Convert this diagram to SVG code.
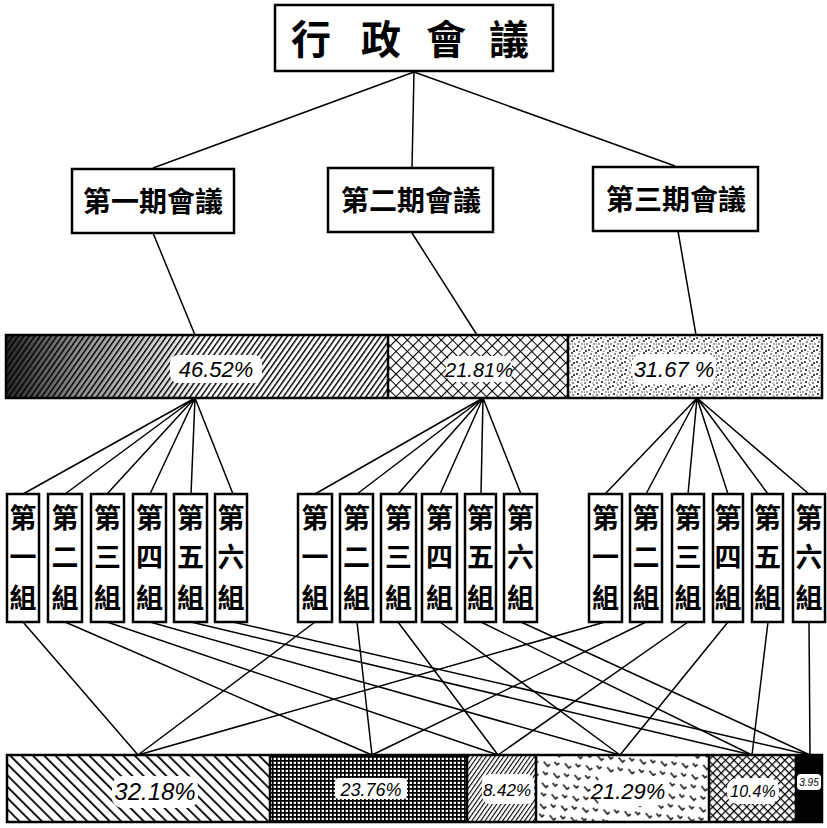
<svg xmlns="http://www.w3.org/2000/svg" width="827" height="828" viewBox="0 0 827 828">
<defs>
<style>
.box{fill:#fff;stroke:#000;stroke-width:2.5}
.ln{stroke:#000;stroke-width:1.5;fill:none}
.cj{font-family:"Noto Sans CJK TC","Noto Sans CJK SC",sans-serif;font-weight:700;fill:#000;text-anchor:middle}
.pc{font-family:"Liberation Sans",sans-serif;font-style:italic;fill:#000;text-anchor:middle}
.bar{fill:none;stroke:#000;stroke-width:2.5}
</style>
<linearGradient id="dk" x1="0" y1="0" x2="1" y2="0">
<stop offset="0" stop-color="#000" stop-opacity="0.85"/>
<stop offset="0.35" stop-color="#000" stop-opacity="0.45"/>
<stop offset="1" stop-color="#000" stop-opacity="0"/>
</linearGradient>
<pattern id="pA" patternUnits="userSpaceOnUse" width="4.5" height="4.5" patternTransform="rotate(35)">
<rect width="4.5" height="4.5" fill="#fff"/><line x1="0" y1="0" x2="0" y2="4.5" stroke="#000" stroke-width="2.9"/>
</pattern>
<pattern id="pB" patternUnits="userSpaceOnUse" width="8" height="8" patternTransform="rotate(45)">
<rect width="8" height="8" fill="#fff"/><path d="M0 0H8M0 0V8" stroke="#000" stroke-width="2.2"/>
</pattern>
<pattern id="pC" patternUnits="userSpaceOnUse" width="12" height="12">
<rect width="12" height="12" fill="#fff"/>
<g fill="#000">
<circle cx="1" cy="2" r="0.9"/><circle cx="6" cy="1" r="0.7"/><circle cx="10" cy="3" r="1"/>
<circle cx="3" cy="6" r="0.8"/><circle cx="8" cy="5" r="0.9"/><circle cx="11" cy="8" r="0.7"/>
<circle cx="2" cy="10" r="1"/><circle cx="6" cy="8" r="0.7"/><circle cx="9" cy="11" r="0.8"/>
<circle cx="5" cy="11" r="0.6"/><circle cx="4" cy="3.5" r="0.5"/><circle cx="8.5" cy="8" r="0.5"/>
</g>
</pattern>
<pattern id="bA" patternUnits="userSpaceOnUse" width="8" height="8" patternTransform="rotate(-45)">
<rect width="8" height="8" fill="#fff"/><line x1="0" y1="0" x2="0" y2="8" stroke="#000" stroke-width="3.6"/>
</pattern>
<pattern id="bB" patternUnits="userSpaceOnUse" width="4" height="4">
<rect width="4" height="4" fill="#fff"/><path d="M0 0H4M0 0V4" stroke="#000" stroke-width="3.3"/>
</pattern>
<pattern id="bC" patternUnits="userSpaceOnUse" width="3.6" height="3.6" patternTransform="rotate(35)">
<rect width="3.6" height="3.6" fill="#fff"/><line x1="0" y1="0" x2="0" y2="3.6" stroke="#000" stroke-width="2.2"/>
</pattern>
<pattern id="bD" patternUnits="userSpaceOnUse" width="15" height="15" patternTransform="rotate(-40)">
<rect width="15" height="15" fill="#fff"/>
<path d="M2 3v6h3M10 10v4h3" stroke="#000" stroke-width="1.4" fill="none"/>
</pattern>
<pattern id="bE" patternUnits="userSpaceOnUse" width="6" height="6" patternTransform="rotate(45)">
<rect width="6" height="6" fill="#fff"/><path d="M0 0H6M0 0V6" stroke="#000" stroke-width="2.5"/>
</pattern>
</defs>
<rect width="827" height="828" fill="#fff"/>

<g id="connectors">
<path class="ln" d="M414 72L153 168M414 72L412 168M414 72L675 166"/>
<path class="ln" d="M153 233L195 335M412 233L477 335M678 231L696 335"/>
<path class="ln" d="M195 398L23 494M195 398L65 494M195 398L107 494M195 398L150 494M195 398L191 494M195 398L233 494"/>
<path class="ln" d="M483 398L315 494M483 398L357 494M483 398L398 494M483 398L440 494M483 398L481 494M483 398L521 494"/>
<path class="ln" d="M697 398L605 494M697 398L646 494M697 398L688 494M697 398L728 494M697 398L768 494M697 398L809 494"/>
<path class="ln" d="M23 622L138 755M315 622L138 755M605 622L138 755"/>
<path class="ln" d="M65 622L372 755M357 622L372 755M646 622L372 755"/>
<path class="ln" d="M107 622L498 755M398 622L498 755M688 622L498 755"/>
<path class="ln" d="M150 622L620 755M440 622L620 755M728 622L620 755"/>
<path class="ln" d="M191 622L752 755M481 622L752 755M768 622L752 755"/>
<path class="ln" d="M233 622L810 755M521 622L810 755M809 622L810 755"/>
</g>

<g id="title">
<rect class="box" x="275" y="5" width="278" height="66"/>
<text class="cj" y="54" font-size="40"><tspan x="311">行</tspan><tspan x="381">政</tspan><tspan x="446">會</tspan><tspan x="509">議</tspan></text>
</g>

<g id="period1">
<rect class="box" x="72" y="169" width="162" height="64"/>
<text class="cj" x="153" y="212" font-size="28">第一期會議</text>
</g>
<g id="period2">
<rect class="box" x="328" y="168" width="165" height="64"/>
<text class="cj" x="411" y="211" font-size="28">第二期會議</text>
</g>
<g id="period3">
<rect class="box" x="593" y="167" width="165" height="64"/>
<text class="cj" x="676" y="210" font-size="28">第三期會議</text>
</g>

<g id="bar-top">
<rect x="6" y="335" width="382" height="63" fill="url(#pA)"/>
<rect x="6" y="335" width="200" height="63" fill="url(#dk)"/>
<rect x="388" y="335" width="180" height="63" fill="url(#pB)"/>
<rect x="568" y="335" width="254" height="63" fill="url(#pC)"/>
<rect class="bar" x="6" y="335" width="816" height="63"/>
<line x1="388" y1="335" x2="388" y2="398" stroke="#000" stroke-width="2.5"/>
<line x1="568" y1="335" x2="568" y2="398" stroke="#000" stroke-width="2.5"/>
<rect x="170" y="355" width="92" height="28" rx="8" fill="#fff"/>
<text class="pc" x="216" y="377" font-size="22">46.52%</text>
<rect x="446" y="356" width="66" height="26" rx="8" fill="#fff"/>
<text class="pc" x="479" y="377" font-size="20">21.81%</text>
<rect x="632" y="354" width="84" height="30" rx="10" fill="#fff"/>
<text class="pc" x="674" y="377" font-size="22">31.67 %</text>
</g>

<g id="groups1">
<rect class="box" x="7" y="494" width="32" height="128"/>
<text class="cj" font-size="27"><tspan x="23" y="528">第</tspan><tspan x="23" y="567">一</tspan><tspan x="23" y="608">組</tspan></text>
<rect class="box" x="48" y="494" width="34" height="128"/>
<text class="cj" font-size="27"><tspan x="65" y="528">第</tspan><tspan x="65" y="567">二</tspan><tspan x="65" y="608">組</tspan></text>
<rect class="box" x="91" y="494" width="33" height="128"/>
<text class="cj" font-size="27"><tspan x="107.5" y="528">第</tspan><tspan x="107.5" y="567">三</tspan><tspan x="107.5" y="608">組</tspan></text>
<rect class="box" x="133" y="494" width="33" height="128"/>
<text class="cj" font-size="27"><tspan x="149.5" y="528">第</tspan><tspan x="149.5" y="567">四</tspan><tspan x="149.5" y="608">組</tspan></text>
<rect class="box" x="174" y="494" width="33" height="128"/>
<text class="cj" font-size="27"><tspan x="190.5" y="528">第</tspan><tspan x="190.5" y="567">五</tspan><tspan x="190.5" y="608">組</tspan></text>
<rect class="box" x="215" y="494" width="32" height="128"/>
<text class="cj" font-size="27"><tspan x="231" y="528">第</tspan><tspan x="231" y="567">六</tspan><tspan x="231" y="608">組</tspan></text>
</g>

<g id="groups2">
<rect class="box" x="298" y="494" width="34" height="128"/>
<text class="cj" font-size="27"><tspan x="315" y="528">第</tspan><tspan x="315" y="567">一</tspan><tspan x="315" y="608">組</tspan></text>
<rect class="box" x="340" y="494" width="33" height="128"/>
<text class="cj" font-size="27"><tspan x="356.5" y="528">第</tspan><tspan x="356.5" y="567">二</tspan><tspan x="356.5" y="608">組</tspan></text>
<rect class="box" x="381" y="494" width="35" height="128"/>
<text class="cj" font-size="27"><tspan x="398.5" y="528">第</tspan><tspan x="398.5" y="567">三</tspan><tspan x="398.5" y="608">組</tspan></text>
<rect class="box" x="422" y="494" width="35" height="128"/>
<text class="cj" font-size="27"><tspan x="439.5" y="528">第</tspan><tspan x="439.5" y="567">四</tspan><tspan x="439.5" y="608">組</tspan></text>
<rect class="box" x="465" y="494" width="31" height="128"/>
<text class="cj" font-size="27"><tspan x="480.5" y="528">第</tspan><tspan x="480.5" y="567">五</tspan><tspan x="480.5" y="608">組</tspan></text>
<rect class="box" x="504" y="494" width="33" height="128"/>
<text class="cj" font-size="27"><tspan x="520.5" y="528">第</tspan><tspan x="520.5" y="567">六</tspan><tspan x="520.5" y="608">組</tspan></text>
</g>

<g id="groups3">
<rect class="box" x="589" y="494" width="33" height="128"/>
<text class="cj" font-size="27"><tspan x="605.5" y="528">第</tspan><tspan x="605.5" y="567">一</tspan><tspan x="605.5" y="608">組</tspan></text>
<rect class="box" x="630" y="494" width="32" height="128"/>
<text class="cj" font-size="27"><tspan x="646" y="528">第</tspan><tspan x="646" y="567">二</tspan><tspan x="646" y="608">組</tspan></text>
<rect class="box" x="672" y="494" width="32" height="128"/>
<text class="cj" font-size="27"><tspan x="688" y="528">第</tspan><tspan x="688" y="567">三</tspan><tspan x="688" y="608">組</tspan></text>
<rect class="box" x="713" y="494" width="30" height="128"/>
<text class="cj" font-size="27"><tspan x="728" y="528">第</tspan><tspan x="728" y="567">四</tspan><tspan x="728" y="608">組</tspan></text>
<rect class="box" x="752" y="494" width="31" height="128"/>
<text class="cj" font-size="27"><tspan x="767.5" y="528">第</tspan><tspan x="767.5" y="567">五</tspan><tspan x="767.5" y="608">組</tspan></text>
<rect class="box" x="793" y="494" width="32" height="128"/>
<text class="cj" font-size="27"><tspan x="809" y="528">第</tspan><tspan x="809" y="567">六</tspan><tspan x="809" y="608">組</tspan></text>
</g>

<g id="bar-bottom">
<rect x="7" y="755" width="263" height="67" fill="url(#bA)"/>
<rect x="270" y="755" width="197" height="67" fill="url(#bB)"/>
<rect x="467" y="755" width="69" height="67" fill="url(#bC)"/>
<rect x="536" y="755" width="173" height="67" fill="url(#bD)"/>
<rect x="709" y="755" width="87" height="67" fill="url(#bE)"/>
<rect x="796" y="755" width="26" height="67" fill="#000"/>
<rect class="bar" x="7" y="755" width="815" height="67"/>
<path d="M270 755V822M467 755V822M536 755V822M709 755V822M796 755V822" stroke="#000" stroke-width="2.5"/>
<rect x="112" y="776" width="86" height="32" rx="10" fill="#fff"/>
<text class="pc" x="155" y="800" font-size="24">32.18%</text>
<rect x="335" y="778" width="72" height="21" rx="4" fill="#fff"/>
<text class="pc" x="371" y="796" font-size="18">23.76%</text>
<rect x="482" y="774" width="52" height="30" rx="8" fill="#fff"/>
<text class="pc" x="507" y="796" font-size="17">8.42%</text>
<rect x="596" y="776" width="70" height="30" rx="10" fill="#fff"/>
<text class="pc" x="628" y="799" font-size="22">21.29%</text>
<rect x="727" y="778" width="52" height="26" rx="10" fill="#fff"/>
<text class="pc" x="753" y="797" font-size="16">10.4%</text>
<rect x="797" y="774" width="24" height="16" rx="4" fill="#fff"/>
<text class="pc" x="809" y="786" font-size="10">3.95</text>
</g>
</svg>
